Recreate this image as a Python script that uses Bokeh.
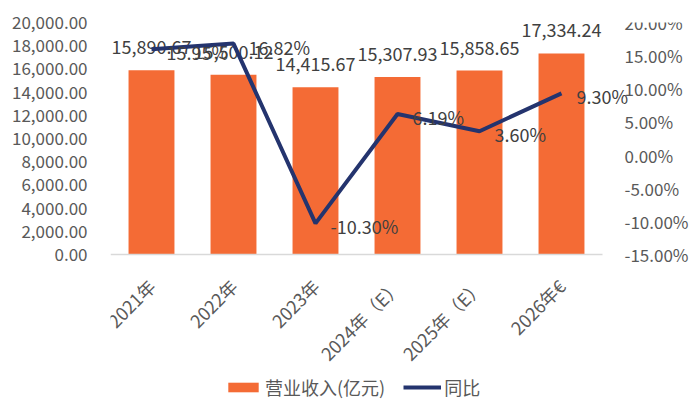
from bokeh.plotting import figure
from bokeh.models import (ColumnDataSource, Range1d, LinearAxis, FixedTicker,
                          NumeralTickFormatter, PrintfTickFormatter, Legend, LegendItem)
from bokeh.core.properties import value
from bokeh.embed import file_html
from bokeh.resources import INLINE
import math

categories = ["2021年", "2022年", "2023年", "2024年（E）", "2025年（E）", "2026年€"]
revenue = [15890.67, 15500.12, 14415.67, 15307.93, 15858.65, 17334.24]
growth = [15.95, 16.82, -10.30, 6.19, 3.60, 9.30]
revenue_labels = ["15,890.67", "15,500.12", "14,415.67", "15,307.93", "15,858.65", "17,334.24"]
growth_labels = ["15.95%", "16.82%", "-10.30%", "6.19%", "3.60%", "9.30%"]
left_ticks = [0, 2000, 4000, 6000, 8000, 10000, 12000, 14000, 16000, 18000, 20000]
right_ticks = [-15, -10, -5, 0, 5, 10, 15, 20]

FONT = "Noto Sans CJK SC"
BAR = "#F46B35"
LINE = "#24346E"
TXT = "#404040"
TICK = "#595959"

n = len(categories)
xs = list(range(n))
src = ColumnDataSource(dict(x=xs, cat=categories, rev=revenue, g=growth,
                            rl=revenue_labels, gl=growth_labels))

# layout: the frame spans x 110..700 px and y 22..420 px;
# the value area is 232 px tall (0 at 254 px), one category is 82 px wide
W, H, LEFT, TOP = 700, 420, 110, 22
cat_px = 82.0
val_px = 232.0
x_end = -0.5 + (W - LEFT) / cat_px
below_px = H - TOP - val_px
y_start = -20000 * below_px / val_px
pct_start = -15 - 35 * below_px / val_px

p = figure(width=W, height=H, x_range=Range1d(-0.5, x_end),
           y_range=Range1d(y_start, 20000), output_backend="svg", toolbar_location=None,
           min_border_left=LEFT, min_border_right=0, min_border_top=TOP, min_border_bottom=0)
p.extra_y_ranges = {"pct": Range1d(pct_start, 20)}
p.outline_line_color = None
p.xgrid.visible = False
p.ygrid.visible = False

bars = p.vbar(x="x", top="rev", width=0.56, source=src, color=BAR, line_color=None)
p.text(x="x", y="rev", text="rl", source=src, text_align="center", text_baseline="middle",
       y_offset=-23, text_font=value(FONT), text_font_size="18px", text_color=TXT)
# baseline of the category axis
p.segment(x0=[-0.5], x1=[n - 0.5], y0=[0], y1=[0], line_color="#D9D9D9", line_width=1.5)
ln = p.line(x="x", y="g", source=src, y_range_name="pct", line_color=LINE, line_width=4)
p.text(x="x", y="g", text="gl", source=src, y_range_name="pct", text_align="left",
       text_baseline="middle", x_offset=15, y_offset=3, text_font=value(FONT),
       text_font_size="18px", text_color=TXT)

# left axis
ya = p.yaxis[0]
ya.ticker = FixedTicker(ticks=left_ticks)
ya.formatter = NumeralTickFormatter(format="0,0.00")
# right axis, pinned at the end of the category area
ra = LinearAxis(y_range_name="pct", ticker=FixedTicker(ticks=right_ticks),
                formatter=PrintfTickFormatter(format="%.2f%%"), fixed_location=n - 0.5)
p.add_layout(ra, "right")
for ax in (ya, ra):
    ax.axis_line_color = None
    ax.major_tick_line_color = None
    ax.minor_tick_line_color = None
    ax.major_label_text_font = FONT
    ax.major_label_text_font_size = "17px"
    ax.major_label_text_color = TICK
ya.major_label_standoff = 17
ra.major_label_standoff = 16

# category axis, pinned at value 0
xa = p.xaxis[0]
xa.fixed_location = 0
xa.ticker = FixedTicker(ticks=xs)
xa.major_label_overrides = {i: c for i, c in enumerate(categories)}
xa.axis_line_color = None
xa.major_tick_line_color = None
xa.minor_tick_line_color = None
xa.major_label_orientation = math.pi / 4
xa.major_label_text_font = FONT
xa.major_label_text_font_size = "18px"
xa.major_label_text_color = TICK
xa.major_label_standoff = 22

legend = Legend(items=[LegendItem(label="营业收入(亿元)", renderers=[bars]),
                       LegendItem(label="同比", renderers=[ln])],
                orientation="horizontal", location=(114, 20),
                label_text_font=FONT, label_text_font_size="18px", label_text_color=TICK,
                glyph_width=38, glyph_height=12, label_standoff=3, spacing=18,
                padding=0, margin=0, border_line_color=None, background_fill_alpha=0)
p.add_layout(legend, "center")

open("out.html", "w").write(file_html(p, INLINE))
